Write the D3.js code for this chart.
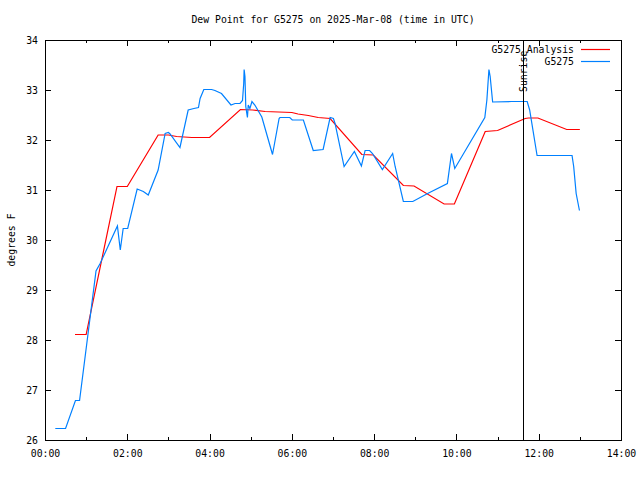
<!DOCTYPE html>
<html>
<head>
<meta charset="utf-8">
<script src="https://cdn.jsdelivr.net/npm/d3@7/dist/d3.min.js"></script>
<style>
html,body{margin:0;padding:0;background:#fff;}
svg{display:block;}
text{font-family:"DejaVu Sans Mono",monospace;font-size:9.8px;fill:#000;}
</style>
</head>
<body>
<svg id="chart" width="640" height="480"></svg>
<script>
// ---- data ----
const titleText = "Dew Point for G5275 on 2025-Mar-08 (time in UTC)";
const yLabelText = "degrees F";
const seriesNames = ["G5275_Analysis", "G5275"];
const xTickHours = [0, 2, 4, 6, 8, 10, 12, 14];
const xTickLabels = ["00:00", "02:00", "04:00", "06:00", "08:00", "10:00", "12:00", "14:00"];
const xMinorHours = [1, 3, 5, 7, 9, 11, 13];
const yTickValues = [26, 27, 28, 29, 30, 31, 32, 33, 34];
const sunriseHour = 11.62;
const sunriseLabel = "Sunrise";

// analysis series (hours UTC, deg F)
const analysisHours = [0.73, 1.0, 1.75, 2.0, 2.75, 3.0, 3.2, 3.57, 4.0, 4.75, 5.05, 5.35, 6.0, 6.15, 6.4, 6.64, 6.93, 7.7, 7.98, 8.71, 8.97, 9.7, 9.95, 10.7, 11.0, 11.67, 11.75, 11.98, 12.68, 13.0];
const analysisValues = [28.11, 28.11, 31.07, 31.07, 32.1, 32.1, 32.07, 32.05, 32.05, 32.61, 32.6, 32.57, 32.55, 32.52, 32.49, 32.45, 32.43, 31.71, 31.7, 31.09, 31.08, 30.72, 30.72, 32.17, 32.19, 32.43, 32.44, 32.44, 32.21, 32.21];

// observed series (hours UTC, deg F)
const obsHours = [0.25, 0.5, 0.74, 0.84, 1.13, 1.24, 1.34, 1.76, 1.83, 1.9, 2.01, 2.24, 2.39, 2.51, 2.75, 2.92, 3.0, 3.04, 3.28, 3.48, 3.62, 3.73, 3.77, 3.86, 4.05, 4.13, 4.29, 4.52, 4.62, 4.74, 4.8, 4.83, 4.84, 4.86, 4.88, 4.92, 4.94, 4.98, 5.03, 5.1, 5.27, 5.53, 5.69, 5.71, 5.95, 6.01, 6.28, 6.52, 6.76, 6.93, 7.01, 7.05, 7.27, 7.52, 7.69, 7.78, 7.89, 7.96, 8.2, 8.45, 8.51, 8.71, 8.94, 9.3, 9.78, 9.88, 9.96, 10.69, 10.74, 10.79, 10.82, 10.88, 11.34, 11.72, 11.78, 11.96, 12.81, 12.85, 12.91, 12.99];
const obsValues = [26.23, 26.23, 26.79, 26.79, 28.67, 29.38, 29.53, 30.28, 29.8, 30.23, 30.23, 31.02, 30.97, 30.9, 31.4, 32.13, 32.15, 32.12, 31.85, 32.6, 32.63, 32.65, 32.83, 33.01, 33.01, 32.99, 32.93, 32.7, 32.73, 32.73, 32.79, 33.13, 33.41, 33.27, 32.67, 32.45, 32.7, 32.63, 32.77, 32.7, 32.46, 31.71, 32.43, 32.45, 32.45, 32.4, 32.4, 31.79, 31.81, 32.45, 32.43, 32.33, 31.47, 31.77, 31.48, 31.79, 31.79, 31.73, 31.41, 31.73, 31.47, 30.77, 30.77, 30.93, 31.13, 31.73, 31.43, 32.45, 32.8, 33.41, 33.27, 32.76, 32.77, 32.77, 32.6, 31.69, 31.69, 31.47, 30.93, 30.59];

// ---- layout ----
const svg = d3.select("#chart");
const mLeft = 45, mRight = 621, mTop = 40, mBottom = 440;
const x = d3.scaleLinear().domain([0, 14]).range([mLeft, mRight]);
const y = d3.scaleLinear().domain([26, 34]).range([mBottom, mTop]);
const colors = {analysis: "#ff0000", obs: "#0080ff"};

// axes (ticks inward, mirrored)
svg.append("g").attr("transform", `translate(0,${mBottom})`)
  .call(d3.axisBottom(x).tickValues(xTickHours).tickSize(-6).tickPadding(10)
    .tickFormat((d, i) => xTickLabels[i]));
svg.append("g").attr("transform", `translate(0,${mBottom})`)
  .call(d3.axisBottom(x).tickValues(xMinorHours).tickSize(-3).tickFormat(""));
svg.append("g").attr("transform", `translate(0,${mTop})`)
  .call(d3.axisTop(x).tickValues(xTickHours).tickSize(-6).tickFormat(""));
svg.append("g").attr("transform", `translate(0,${mTop})`)
  .call(d3.axisTop(x).tickValues(xMinorHours).tickSize(-3).tickFormat(""));
svg.append("g").attr("transform", `translate(${mLeft},0)`)
  .call(d3.axisLeft(y).tickValues(yTickValues).tickSize(-6).tickPadding(7).tickFormat(d3.format("d")));
svg.append("g").attr("transform", `translate(${mRight},0)`)
  .call(d3.axisRight(y).tickValues(yTickValues).tickSize(-6).tickFormat(""));
svg.selectAll(".domain").remove();
svg.selectAll(".tick line").attr("stroke", "#000").attr("shape-rendering", "crispEdges");
svg.selectAll(".tick text").attr("font-family", "DejaVu Sans Mono").attr("font-size", "9.8px");

// border
svg.append("rect").attr("x", mLeft + 0.5).attr("y", mTop + 0.5)
  .attr("width", mRight - mLeft).attr("height", mBottom - mTop)
  .attr("fill", "none").attr("stroke", "#000").attr("shape-rendering", "crispEdges");

// lines
const line = d3.line().x(d => x(d[0])).y(d => y(d[1]));
const analysisData = analysisHours.map((h, i) => [h, analysisValues[i]]);
const obsData = obsHours.map((h, i) => [h, obsValues[i]]);
svg.append("path").datum(analysisData).attr("d", line)
  .attr("fill", "none").attr("stroke", colors.analysis).attr("stroke-width", 1.2);
svg.append("path").datum(obsData).attr("d", line)
  .attr("fill", "none").attr("stroke", colors.obs).attr("stroke-width", 1.2);

// sunrise
svg.append("line").attr("x1", Math.round(x(sunriseHour)) + 0.5).attr("x2", Math.round(x(sunriseHour)) + 0.5)
  .attr("y1", mTop).attr("y2", mBottom).attr("stroke", "#000").attr("stroke-width", 1);
svg.append("text")
  .attr("transform", `translate(${x(sunriseHour) + 4},92) rotate(-90)`)
  .attr("text-anchor", "start").text(sunriseLabel);

// legend
const legend = [[seriesNames[0], colors.analysis], [seriesNames[1], colors.obs]];
legend.forEach((d, i) => {
  const ly = 50 + i * 12;
  svg.append("text").attr("x", 574).attr("y", ly).attr("dy", "0.35em")
    .attr("text-anchor", "end").text(d[0]);
  svg.append("line").attr("x1", 581).attr("x2", 610).attr("y1", ly - 0.5).attr("y2", ly - 0.5)
    .attr("stroke", d[1]).attr("stroke-width", 1.2);
});

// title and y label
svg.append("text").attr("x", 333).attr("y", 20).attr("dy", "0.35em")
  .attr("text-anchor", "middle").text(titleText);
svg.append("text").attr("transform", "translate(12,240) rotate(-90)")
  .attr("dy", "0.35em").attr("text-anchor", "middle").text(yLabelText);
</script>
</body>
</html>
